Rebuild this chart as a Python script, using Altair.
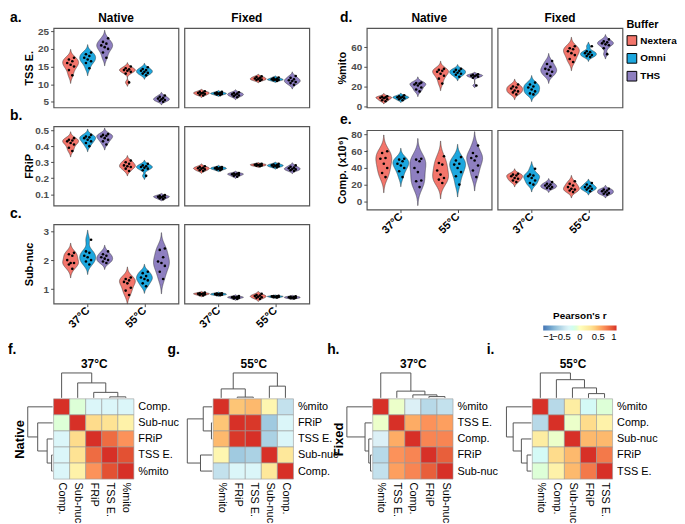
import altair as alt
import pandas as pd

buffers = ["Nextera", "Omni", "THS"]
buffer_colors = ["#F3756B", "#1DA7DE", "#8E7FC0"]
temps = ["37°C", "55°C"]
fixations = ["Native", "Fixed"]

# values per (fixation, temperature): [Nextera, Omni, THS]
tss_e = {
    ("Native", "37°C"): [[12.5, 14, 15, 15.5, 16, 16.5, 17, 17.5], [14.5, 16, 16.5, 17, 17.5, 18, 18.5, 19], [17.5, 19, 20, 20.5, 21, 21.5, 22, 23]],
    ("Native", "55°C"): [[10.5, 13, 13.5, 13.8, 14, 14.2, 14.5, 15], [12.5, 13, 13.2, 13.5, 13.8, 14, 14.3, 14.8], [5, 5.3, 5.5, 5.7, 5.9, 6.1, 6.4, 6.8]],
    ("Fixed", "37°C"): [[6.8, 7, 7.2, 7.4, 7.5, 7.6, 7.8, 8], [6.9, 7.1, 7.2, 7.3, 7.4, 7.5, 7.6, 7.8], [6.3, 6.6, 6.8, 7, 7.1, 7.3, 7.5, 7.7]],
    ("Fixed", "55°C"): [[11, 11.2, 11.3, 11.5, 11.6, 11.8, 12, 12.2], [10.9, 11.1, 11.2, 11.3, 11.4, 11.5, 11.7, 11.9], [9.8, 10.3, 10.6, 10.9, 11.1, 11.4, 11.8, 12.3]],
}
frip = {
    ("Native", "37°C"): [[0.37, 0.39, 0.41, 0.42, 0.43, 0.435, 0.44, 0.45], [0.40, 0.42, 0.43, 0.44, 0.45, 0.455, 0.46, 0.47], [0.41, 0.43, 0.44, 0.45, 0.46, 0.465, 0.47, 0.475]],
    ("Native", "55°C"): [[0.245, 0.26, 0.27, 0.275, 0.28, 0.29, 0.30, 0.31], [0.215, 0.25, 0.26, 0.265, 0.27, 0.275, 0.28, 0.29], [0.07, 0.075, 0.08, 0.082, 0.085, 0.088, 0.09, 0.095]],
    ("Fixed", "37°C"): [[0.245, 0.25, 0.255, 0.26, 0.262, 0.265, 0.27, 0.275], [0.25, 0.255, 0.258, 0.26, 0.262, 0.265, 0.268, 0.27], [0.21, 0.215, 0.22, 0.223, 0.225, 0.228, 0.23, 0.233]],
    ("Fixed", "55°C"): [[0.275, 0.278, 0.28, 0.282, 0.284, 0.286, 0.288, 0.29], [0.268, 0.272, 0.275, 0.278, 0.28, 0.283, 0.286, 0.29], [0.245, 0.25, 0.255, 0.258, 0.262, 0.266, 0.272, 0.28]],
}
sub_nuc = {
    ("Native", "37°C"): [[1.7, 1.85, 1.9, 1.9, 2.0, 2.15, 2.2, 2.25], [1.85, 1.95, 2.0, 2.1, 2.15, 2.25, 2.3, 2.7], [1.9, 1.95, 2.0, 2.05, 2.1, 2.15, 2.2, 2.3]],
    ("Native", "55°C"): [[0.8, 0.95, 1.05, 1.2, 1.25, 1.3, 1.35, 1.4], [1.1, 1.2, 1.3, 1.35, 1.4, 1.45, 1.55, 1.6], [1.35, 1.6, 1.8, 1.9, 1.95, 2.1, 2.35, 2.4]],
    ("Fixed", "37°C"): [[0.78, 0.8, 0.82, 0.83, 0.84, 0.85, 0.86, 0.88], [0.79, 0.8, 0.81, 0.82, 0.83, 0.84, 0.85, 0.86], [0.66, 0.68, 0.7, 0.71, 0.72, 0.73, 0.74, 0.76]],
    ("Fixed", "55°C"): [[0.66, 0.7, 0.72, 0.74, 0.76, 0.78, 0.8, 0.84], [0.71, 0.72, 0.73, 0.74, 0.75, 0.75, 0.76, 0.77], [0.68, 0.69, 0.7, 0.71, 0.72, 0.73, 0.74, 0.75]],
}
mito = {
    ("Native", "37°C"): [[5, 6, 7, 8, 8.5, 9, 9.5, 10], [6, 7, 8, 8.5, 9, 9.5, 10, 11], [15, 17, 19, 21, 22, 23, 23.5, 24]],
    ("Native", "55°C"): [[23, 28, 31, 33, 35, 36, 37, 38], [30, 32, 33, 34, 35, 36, 37, 38], [21, 29, 30, 30.5, 31, 31.5, 32, 32.5]],
    ("Fixed", "37°C"): [[12, 14, 15, 16, 18, 19, 20, 22], [12, 13, 15, 17, 19, 20, 22, 24], [31, 33, 35, 37, 38, 40, 43, 46]],
    ("Fixed", "55°C"): [[45, 48, 52, 54, 56, 58, 59, 61], [50, 51, 52, 53, 54, 55, 56, 61], [53, 59, 62, 63, 64, 65, 66, 68]],
}
comp = {
    ("Native", "37°C"): [[29, 34, 40, 45, 51, 52, 58, 60], [29, 36, 40, 43, 45, 48, 50, 51], [17, 24, 25, 35, 40, 48, 50, 51]],
    ("Native", "55°C"): [[22, 26, 28, 32, 37, 44, 46, 54], [20, 30, 35, 40, 44, 45, 49, 53], [29, 37, 43, 49, 52, 54, 58, 67]],
    ("Fixed", "37°C"): [[23, 25, 27, 28, 30, 31, 32, 33], [20, 22, 25, 28, 30, 31, 32, 39], [15, 16, 17, 18, 19, 20, 21, 23]],
    ("Fixed", "55°C"): [[11, 13, 14, 15, 17, 19, 21, 24], [12, 14, 15, 16, 17, 18, 20, 22], [8, 9, 10, 11, 12, 13, 14, 15]],
}

# heatmap panels: leaf order, correlation matrix, dendrogram merges (a, b, height)
f_names = ["Comp.", "Sub-nuc", "FRiP", "TSS E.", "%mito"]
f_matrix = [[1, -0.1, -0.3, -0.3, -0.3],
            [-0.1, 1, 0.35, 0.3, 0.15],
            [-0.3, 0.35, 1, 0.8, 0.65],
            [-0.3, 0.3, 0.8, 1, 0.9],
            [-0.3, 0.15, 0.65, 0.9, 1]]
f_merges = [(3, 4, 0.04), (2, 5, 0.22), (1, 6, 0.6), (0, 7, 1.0)]

g_names = ["%mito", "FRiP", "TSS E.", "Sub-nuc", "Comp."]
g_matrix = [[1, 0.45, 0.5, 0.1, -0.45],
            [0.45, 1, 0.98, -0.6, -0.3],
            [0.5, 0.98, 1, -0.55, -0.3],
            [0.1, -0.6, -0.55, 1, 0.25],
            [-0.45, -0.3, -0.3, 0.25, 1]]
g_merges = [(1, 2, 0.03), (0, 5, 0.36), (3, 4, 0.47), (6, 7, 1.0)]

h_names = ["%mito", "TSS E.", "Comp.", "FRiP", "Sub-nuc"]
h_matrix = [[1, -0.05, -0.35, -0.5, -0.45],
            [-0.05, 1, 0.55, 0.65, 0.6],
            [-0.35, 0.55, 1, 0.7, 0.7],
            [-0.5, 0.65, 0.7, 1, 0.85],
            [-0.45, 0.6, 0.7, 0.85, 1]]
h_merges = [(3, 4, 0.05), (2, 5, 0.12), (1, 6, 0.27), (0, 7, 1.0)]

i_names = ["%mito", "Comp.", "Sub-nuc", "FRiP", "TSS E."]
i_matrix = [[1, -0.5, 0.2, -0.25, -0.1],
            [-0.5, 1, -0.05, 0.35, 0.15],
            [0.2, -0.05, 1, 0.5, 0.5],
            [-0.25, 0.35, 0.5, 1, 0.75],
            [-0.1, 0.15, 0.5, 0.75, 1]]
i_merges = [(3, 4, 0.17), (2, 5, 0.4), (1, 6, 0.73), (0, 7, 1.0)]

heat_colors = ["#4575B4", "#91BFDB", "#E0F3F8", "#FFFFBF", "#FEE090", "#FC8D59", "#D73027"]

# ---------------------------------------------------------------- tables
rows = []
for metric, table in [("tss", tss_e), ("frip", frip), ("subnuc", sub_nuc), ("mito", mito), ("comp", comp)]:
    for (fx, tp), groups in table.items():
        for b, vals in zip(buffers, groups):
            for v in vals:
                rows.append({"metric": metric, "fix": fx, "temp": tp, "buffer": b, "v": v})
long_df = pd.DataFrame(rows)

PW, PH = 126, 80
FONT = "Liberation Sans"
CENTER = ("(datum.temp == '37°C' ? 1 : 2) + (datum.buffer == 'Nextera' ? -0.3 : "
          "(datum.buffer == 'Omni' ? 0 : 0.3))")

BUFFER_SCALE = alt.Scale(domain=buffers, range=buffer_colors)
BUFFER_LEGEND = alt.Legend(title="Buffer", orient="none", legendX=262, legendY=-9,
                           symbolType="square", symbolSize=95, symbolStrokeColor="black",
                           symbolStrokeWidth=1, labelFontWeight="bold", labelFontSize=10,
                           labelOffset=3, titleFontSize=11, titleFontWeight="bold",
                           rowPadding=3, symbolOpacity=1)


def text_layer(txt, x, y, xscale, yscale, xaxis, yaxis, align, dx, size):
    return (alt.Chart(pd.DataFrame({"t": [txt]}))
            .mark_text(align=align, baseline="bottom", dx=dx, dy=-3, fontSize=size,
                       fontWeight="bold", font=FONT, color="black")
            .encode(x=alt.XDatum(x, type="quantitative", scale=xscale, axis=xaxis),
                    y=alt.YDatum(y, type="quantitative", scale=yscale, axis=yaxis),
                    text="t:N"))


def violin_panel(metric, fix, domain, ticks, ytitle, show_y, show_x, header, letter, ldx, legend):
    src = long_df[(long_df.metric == metric) & (long_df.fix == fix)]
    base = alt.Chart(src)
    xscale = alt.Scale(domain=[0.4, 2.6], nice=False, zero=False)
    yscale = alt.Scale(domain=domain, nice=False, zero=False)
    if show_x:
        xaxis = alt.Axis(values=[1, 2], labelExpr="datum.value == 1 ? '37°C' : '55°C'",
                         labelAngle=-45, labelAlign="right", labelBaseline="middle",
                         title=None, grid=False, domain=False, labelFontSize=11,
                         labelColor="black", labelPadding=2)
    else:
        xaxis = None
    if show_y:
        yaxis = alt.Axis(values=ticks, title=ytitle, grid=False, domain=False,
                         minExtent=17, maxExtent=17, titlePadding=2)
    else:
        yaxis = None
    fill = alt.Fill("buffer:N", scale=BUFFER_SCALE, legend=(BUFFER_LEGEND if legend else None))
    violin = (base
              .transform_density("v", as_=["value", "density"], groupby=["temp", "buffer"],
                                 extent=domain, steps=600)
              .transform_joinaggregate(dmax="max(density)", groupby=["temp", "buffer"])
              .transform_calculate(rel="datum.density / datum.dmax")
              .transform_filter("datum.rel > 0.015")
              .transform_calculate(c=CENTER)
              .transform_calculate(xl="datum.c - 0.14 * datum.rel", xr="datum.c + 0.14 * datum.rel")
              .mark_area(orient="horizontal", stroke="#333333", strokeWidth=0.5, fillOpacity=1)
              .encode(y=alt.Y("value:Q", scale=yscale, axis=yaxis),
                      x=alt.X("xl:Q", scale=xscale, axis=xaxis),
                      x2="xr:Q", fill=fill, detail="temp:N"))
    pts = (base
           .transform_window(idx="row_number()", groupby=["temp", "buffer"])
           .transform_calculate(c=CENTER)
           .transform_calculate(px="datum.c + ((datum.idx * 3) % 5 - 2) * 0.03")
           .mark_circle(size=7, color="black", opacity=1)
           .encode(x=alt.X("px:Q", scale=xscale, axis=xaxis),
                   y=alt.Y("v:Q", scale=yscale, axis=yaxis)))
    layers = [violin, pts]
    if letter:
        layers.append(text_layer(letter, 0.4, domain[1], xscale, yscale, xaxis, yaxis, "left", ldx, 14))
    if header:
        layers.append(text_layer(fix, 1.5, domain[1], xscale, yscale, xaxis, yaxis, "center", 0, 12))
    return alt.layer(*layers).properties(
        width=PW, height=PH,
        view=alt.ViewBackground(stroke="#555555", strokeWidth=1.2))


def metric_row(metric, letter, domain, ticks, ytitle, show_x, header, ldx, legend):
    n = violin_panel(metric, "Native", domain, ticks, ytitle, True, show_x, header, letter, ldx, legend)
    f = violin_panel(metric, "Fixed", domain, ticks, ytitle, False, show_x, header, None, 0, legend)
    return alt.hconcat(n, f, spacing=4)


a = metric_row("tss", "a.", [3.4, 25.9], [5, 10, 15, 20, 25], "TSS E.", False, True, -44, False)
b = metric_row("frip", "b.", [0.03, 0.524], [0.1, 0.2, 0.3, 0.4, 0.5], "FRiP", False, False, -44, False)
c = metric_row("subnuc", "c.", [0.5, 3.23], [1, 2, 3], "Sub-nuc", True, False, -44, False)
d = metric_row("mito", "d.", [-1.3, 79.5], [0, 20, 40, 60], "%mito", False, True, -27, True)
e = metric_row("comp", "e.", [-9.9, 85.3], [0, 20, 40, 60, 80], "Comp. (x10⁶)", True, False, -27, True)

left = alt.vconcat(a, b, c, spacing=0)
right = alt.vconcat(d, e, spacing=0)
top = alt.hconcat(left, right, spacing=26).resolve_scale(fill="independent")

# ---------------------------------------------------------------- heatmaps
U = 16.2
DH = 1.55
GAP = 0.06


def heat_panel(letter, names, matrix, merges, side_title, temp_title):
    cells = []
    for i in range(5):
        for j in range(5):
            cells.append({"x0": j, "x1": j + 1, "y0": 5 - i - 1, "y1": 5 - i, "r": matrix[i][j]})
    cells = pd.DataFrame(cells)
    pos = {k: k + 0.5 for k in range(5)}
    hgt = {k: 0.0 for k in range(5)}
    segs = []
    for k, (p, q, hh) in enumerate(merges):
        node = 5 + k
        pos[node] = (pos[p] + pos[q]) / 2
        hgt[node] = hh
        segs += [(pos[p], hgt[p], pos[p], hh), (pos[q], hgt[q], pos[q], hh), (pos[p], hh, pos[q], hh)]
    lines = []
    for (p1, h1, p2, h2) in segs:
        lines.append({"x": p1, "x2": p2, "y": 5 + GAP + h1 * DH, "y2": 5 + GAP + h2 * DH})
        lines.append({"x": -(GAP + h1 * DH), "x2": -(GAP + h2 * DH), "y": 5 - p1, "y2": 5 - p2})
    lines = pd.DataFrame(lines)

    arr = "[" + ",".join("'" + n + "'" for n in names) + "]"
    xs = alt.Scale(domain=[0, 5], nice=False, zero=False)
    ys = alt.Scale(domain=[0, 5], nice=False, zero=False)
    top_axis = alt.Axis(orient="top", title=temp_title, labels=False, ticks=False, domain=False,
                        titleFontSize=12, titleFontWeight="bold", titlePadding=29)
    if side_title:
        left_axis = alt.Axis(orient="left", title=side_title, labels=False, ticks=False, domain=False,
                             titleFontSize=13, titleFontWeight="bold", titlePadding=27)
    else:
        left_axis = None
    dendro = alt.Chart(lines).mark_rule(color="#555555", strokeWidth=1).encode(
        x=alt.X("x:Q", scale=xs, axis=top_axis), x2="x2:Q",
        y=alt.Y("y:Q", scale=ys, axis=left_axis), y2="y2:Q")
    heat = alt.Chart(cells).mark_rect(stroke="#9A9A9A", strokeWidth=0.6).encode(
        x=alt.X("x0:Q", scale=xs,
                axis=alt.Axis(orient="bottom", values=[0.5, 1.5, 2.5, 3.5, 4.5],
                              labelExpr=arr + "[floor(datum.value)]", labelAngle=90,
                              labelAlign="left", labelBaseline="middle", ticks=False,
                              domain=False, title=None, labelFontWeight="normal",
                              labelColor="black", labelFontSize=11, labelPadding=3)),
        x2="x1:Q",
        y=alt.Y("y0:Q", scale=ys,
                axis=alt.Axis(orient="right", values=[0.5, 1.5, 2.5, 3.5, 4.5],
                              labelExpr=arr + "[floor(5 - datum.value)]", ticks=False,
                              domain=False, title=None, labelFontWeight="normal",
                              labelColor="black", labelFontSize=11, labelPadding=4)),
        y2="y1:Q",
        color=alt.Color("r:Q", scale=alt.Scale(domain=[-1, -2 / 3, -1 / 3, 0, 1 / 3, 2 / 3, 1],
                                               range=heat_colors),
                        legend=alt.Legend(title="Pearson's r", orient="none", legendX=494,
                                          legendY=-89, direction="horizontal",
                                          gradientLength=74, gradientThickness=5,
                                          values=[-1, -0.5, 0, 0.5, 1], labelOverlap=False,
                                          format=".1~f",
                                          titleAnchor="middle", titleFontSize=10,
                                          titleFontWeight="bold", labelFontSize=9.5,
                                          labelFontWeight="normal", labelColor="black")))
    return alt.layer(dendro, heat).resolve_scale(x="independent", y="independent").properties(
        width=5 * U, height=5 * U,
        title=alt.Title(letter, anchor="start", frame="group", dx=-46, offset=0,
                        fontSize=14, fontWeight="bold"))


fh = heat_panel("f.", f_names, f_matrix, f_merges, "Native", "37°C")
gh = heat_panel("g.", g_names, g_matrix, g_merges, None, "55°C")
hh_ = heat_panel("h.", h_names, h_matrix, h_merges, "Fixed", "37°C")
ih = heat_panel("i.", i_names, i_matrix, i_merges, None, "55°C")

bottom = alt.hconcat(fh, gh, hh_, ih, spacing=80, bounds="flush")

chart = (alt.vconcat(top, bottom, spacing=-20)
         .resolve_scale(fill="independent", color="independent")
         .properties(padding=0)
         .configure(font=FONT)
         .configure_view(strokeWidth=0)
         .configure_axis(labelFont=FONT, labelFontSize=10, labelFontWeight="bold",
                         labelColor="#4D4D4D", titleFont=FONT, titleFontSize=11,
                         titleFontWeight="bold", titleColor="black", tickColor="#4D4D4D",
                         tickSize=3, grid=False)
         .configure_title(font=FONT, color="black")
         .configure_legend(labelFont=FONT, titleFont=FONT))

chart.save("out.html", embed_options={"renderer": "svg", "actions": False})
